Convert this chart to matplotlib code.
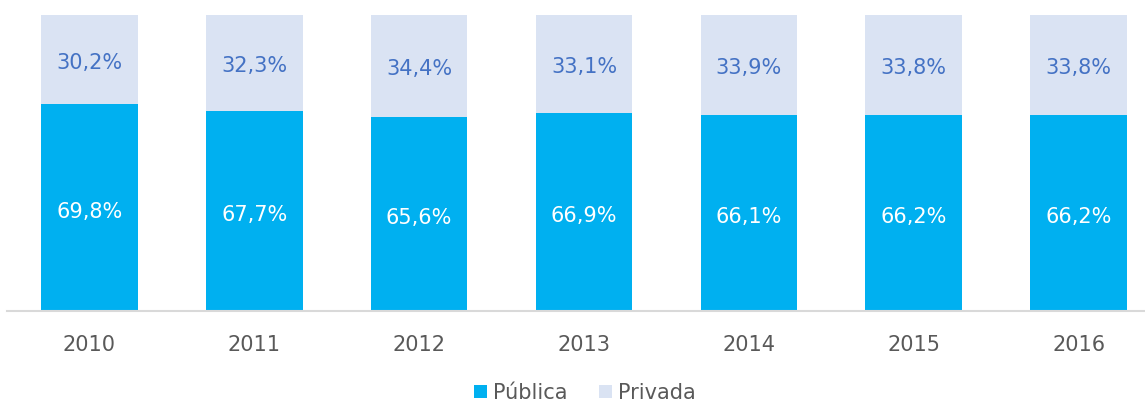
import matplotlib
matplotlib.use("Agg")
import matplotlib.pyplot as plt
from matplotlib.patches import Patch

years = ["2010", "2011", "2012", "2013", "2014", "2015", "2016"]
publica = [69.8, 67.7, 65.6, 66.9, 66.1, 66.2, 66.2]
privada = [30.2, 32.3, 34.4, 33.1, 33.9, 33.8, 33.8]
series_names = ["Pública", "Privada"]

c_pub = "#00B0F0"
c_priv = "#DAE3F3"
c_lab = "#4472C4"
c_txt = "#595959"

plt.rcParams['font.family'] = ['DejaVu Sans']

fig = plt.figure(figsize=(11.45, 4.01), dpi=100)
W, H = 1145, 401
left, right, top, bottom = 7, 1161, 15, 311
ax = fig.add_axes([left / W, 1 - bottom / H, (right - left) / W, (bottom - top) / H])

x = list(range(len(years)))
bw = 0.586
ax.bar(x, publica, width=bw, color=c_pub, edgecolor='none')
ax.bar(x, privada, width=bw, bottom=publica, color=c_priv, edgecolor='none')

def fmt(v):
    return f"{v:.1f}".replace(".", ",") + "%"

for xi, p, q in zip(x, publica, privada):
    ax.text(xi, p / 2 - 1.3, fmt(p), ha='center', va='center', color='white', fontsize=15)
    ax.text(xi, p + q / 2 - 1.0, fmt(q), ha='center', va='center', color=c_lab, fontsize=15)

ax.set_xlim(-0.5, len(years) - 0.5)
ax.set_ylim(0, 100)
ax.set_xticks(x)
ax.set_xticklabels(years, fontsize=15, color=c_txt)
ax.tick_params(axis='x', length=0, pad=17)
ax.set_yticks([])
for s in ['top', 'right', 'left']:
    ax.spines[s].set_visible(False)
ax.spines['bottom'].set_color('#D9D9D9')
ax.spines['bottom'].set_linewidth(1.5)

handles = [Patch(facecolor=c_pub, edgecolor='none'), Patch(facecolor=c_priv, edgecolor='none')]
leg = fig.legend(handles, series_names, loc='center', bbox_to_anchor=(585 / W, 8 / H),
                 ncol=2, frameon=False, fontsize=15, handlelength=0.6, handleheight=0.6,
                 handletextpad=0.3, columnspacing=1.5)
for t in leg.get_texts():
    t.set_color(c_txt)

fig.savefig("out.png", dpi=100)
